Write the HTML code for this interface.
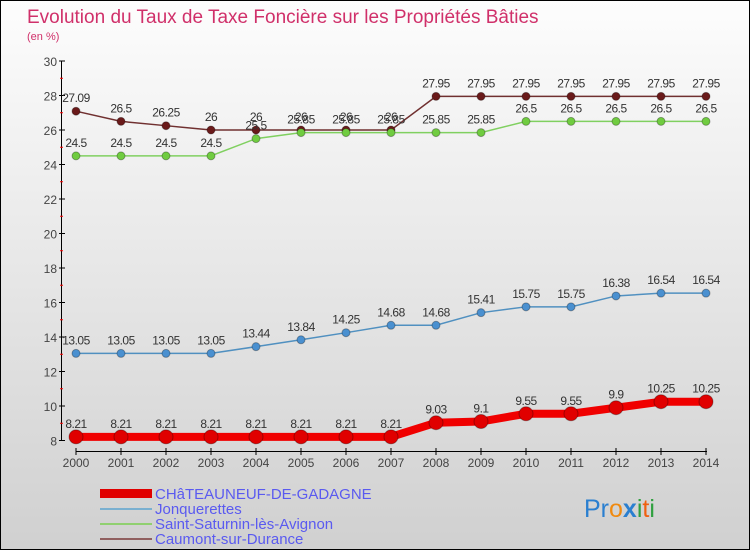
<!DOCTYPE html>
<html><head><meta charset="utf-8"><style>
body{margin:0}
#c{width:748px;height:548px;border:1px solid #000;background:linear-gradient(#fdfdfd,#d0d0d0);position:relative;font-family:"Liberation Sans",sans-serif;overflow:hidden}
</style></head><body>
<div id="c">
<svg id="s" width="748" height="548" xmlns="http://www.w3.org/2000/svg" style="position:absolute;left:0;top:0" font-family="Liberation Sans, sans-serif">
<text x="26" y="22" font-size="19" fill="#d0306a">Evolution du Taux de Taxe Foncière sur les Propriétés Bâties</text>
<text x="26" y="39" font-size="11" fill="#d0306a">(en %)</text>
<g id="axes"></g><g id="series"></g>
<g font-size="15" fill="#5a5af0">
<rect x="99" y="488" width="52" height="9" fill="#e00000"/>
<text x="154" y="498">CHâTEAUNEUF-DE-GADAGNE</text>
<rect x="99" y="507" width="52" height="2" fill="#7ab0d0"/>
<text x="154" y="513">Jonquerettes</text>
<rect x="99" y="522" width="52" height="2" fill="#90d070"/>
<text x="154" y="528">Saint-Saturnin-lès-Avignon</text>
<rect x="99" y="537" width="52" height="2" fill="#906060"/>
<text x="154" y="543">Caumont-sur-Durance</text>
</g>
<text x="583" y="516" font-size="25"><tspan fill="#2a7fd0">Pr</tspan><tspan fill="#f08a10">o</tspan><tspan fill="#2a7fd0" font-weight="bold">x</tspan><tspan fill="#30a040">i</tspan><tspan fill="#f06010">t</tspan><tspan fill="#30a040">i</tspan></text>
</svg>
</div>
<script>
const years=[2000,2001,2002,2003,2004,2005,2006,2007,2008,2009,2010,2011,2012,2013,2014];
const chateauneuf=[8.21,8.21,8.21,8.21,8.21,8.21,8.21,8.21,9.03,9.1,9.55,9.55,9.9,10.25,10.25];
const jonquerettes=[13.05,13.05,13.05,13.05,13.44,13.84,14.25,14.68,14.68,15.41,15.75,15.75,16.38,16.54,16.54];
const saintSaturnin=[24.5,24.5,24.5,24.5,25.5,25.85,25.85,25.85,25.85,25.85,26.5,26.5,26.5,26.5,26.5];
const caumont=[27.09,26.5,26.25,26,26,26,26,26,27.95,27.95,27.95,27.95,27.95,27.95,27.95];
const yTicks=[8,10,12,14,16,18,20,22,24,26,28,30];
const NS="http://www.w3.org/2000/svg";
const x=i=>75+i*45, y=v=>439.5-(v-8)*17.25;
function mk(t,a,p){const e=document.createElementNS(NS,t);for(const k in a)e.setAttribute(k,a[k]);p.appendChild(e);return e;}
const ax=document.getElementById('axes');
let l=mk('line',{x1:60.5,y1:y(30),x2:60.5,y2:y(8),stroke:'#000'},ax);


l=mk('line',{x1:75,y1:450.5,x2:706,y2:450.5,stroke:'#000'},ax);


yTicks.forEach(v=>{
 mk('line',{x1:58,y1:y(v),x2:64,y2:y(v),stroke:'#000'},ax);
 const t=mk('text',{x:56,y:y(v)+5,'text-anchor':'end','font-size':12,fill:'#444'},ax);t.textContent=v;
 
 
 if(v<30)mk('line',{x1:59,y1:y(v+1),x2:62,y2:y(v+1),stroke:'#f00'},ax);
});
years.forEach((yr,i)=>{
 mk('line',{x1:x(i),y1:447,x2:x(i),y2:454,stroke:'#000'},ax);
 const t=mk('text',{x:x(i),y:466,'text-anchor':'middle','font-size':12,fill:'#444'},ax);t.textContent=yr;
 
 
});
const sg=document.getElementById('series');
function series(name,data,color,w,r,fill){
 const g=mk('g',{},sg);
 
 
 mk('polyline',{points:data.map((v,i)=>x(i)+','+y(v)).join(' '),fill:'none',stroke:color,'stroke-width':w},g);
 data.forEach((v,i)=>{
  const c=mk('circle',{cx:x(i),cy:y(v),r:r,fill:fill,stroke:'rgba(0,0,0,0.3)'},g);
  
  
  const t=mk('text',{x:x(i),y:y(v)-9,'text-anchor':'middle','font-size':12,fill:'#333','letter-spacing':'-0.5'},g);t.textContent=v;
  
  
 });
}
series('caumont',caumont,'#703030',1.5,4,'#6a1a1a');
series('saint-saturnin',saintSaturnin,'#80d060',1.5,4,'#70cc40');
series('jonquerettes',jonquerettes,'#5090c0',1.5,4,'#4a90d0');
series('chateauneuf',chateauneuf,'#f00000',8,7,'#e00000');
</script>
</body></html>
